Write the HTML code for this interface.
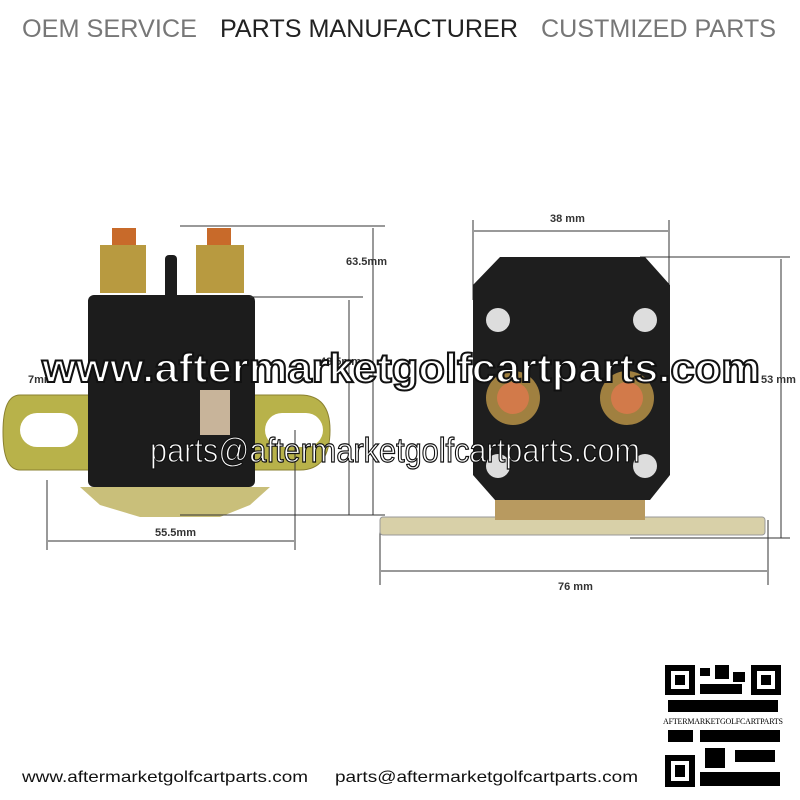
<!DOCTYPE html><html><head><style>body{margin:0;background:#fff}svg{display:block}</style></head><body>
<svg width="800" height="800" viewBox="0 0 800 800" font-family="Liberation Sans, sans-serif">
<text x="22" y="37" font-size="25" fill="#777" textLength="175" lengthAdjust="spacingAndGlyphs">OEM SERVICE</text>
<text x="220" y="37" font-size="25" fill="#222" textLength="298" lengthAdjust="spacingAndGlyphs">PARTS MANUFACTURER</text>
<text x="541" y="37" font-size="25" fill="#777" textLength="235" lengthAdjust="spacingAndGlyphs">CUSTMIZED PARTS</text>
<!-- left solenoid -->
<path d="M20 395 L300 395 Q330 395 330 430 Q330 470 300 470 L20 470 Q3 470 3 432 Q3 395 20 395Z" fill="#b8b24a" stroke="#8a8030"/>
<rect x="20" y="413" width="58" height="34" rx="17" fill="#fff"/>
<rect x="265" y="413" width="58" height="34" rx="17" fill="#fff"/>
<path d="M80 487 L270 487 L250 505 L220 517 L140 517 L100 505Z" fill="#c9bf7a"/>
<rect x="88" y="295" width="167" height="192" rx="6" fill="#1c1c1c"/>
<rect x="200" y="390" width="30" height="45" fill="#c8b49a"/>
<rect x="165" y="255" width="12" height="45" rx="4" fill="#1c1c1c"/>
<rect x="112" y="228" width="24" height="22" fill="#c86a2a"/>
<rect x="100" y="245" width="46" height="48" fill="#b89a40"/>
<rect x="207" y="228" width="24" height="22" fill="#c86a2a"/>
<rect x="196" y="245" width="48" height="48" fill="#b89a40"/>
<g stroke="#333" stroke-width="1" fill="none">
<line x1="180" y1="226" x2="385" y2="226"/><line x1="373" y1="228" x2="373" y2="515"/>
<line x1="250" y1="297" x2="363" y2="297"/><line x1="349" y1="300" x2="349" y2="515"/>
<line x1="180" y1="515" x2="385" y2="515"/>
<line x1="47" y1="480" x2="47" y2="550"/><line x1="295" y1="430" x2="295" y2="550"/>
<line x1="48" y1="541" x2="294" y2="541"/>
<line x1="380" y1="520" x2="380" y2="585"/><line x1="768" y1="520" x2="768" y2="585"/>
<line x1="381" y1="571" x2="767" y2="571"/>
<line x1="473" y1="220" x2="473" y2="300"/><line x1="669" y1="220" x2="669" y2="300"/>
<line x1="474" y1="231" x2="668" y2="231"/>
<line x1="640" y1="257" x2="790" y2="257"/><line x1="781" y1="259" x2="781" y2="538"/>
<line x1="630" y1="538" x2="790" y2="538"/>
</g>
<g font-size="11" font-weight="bold" fill="#333">
<text x="346" y="265">63.5mm</text><text x="155" y="536">55.5mm</text>
<text x="550" y="222">38 mm</text><text x="761" y="383">53 mm</text>
<text x="558" y="590">76 mm</text><text x="28" y="383">7mm</text><text x="320" y="365">48.5mm</text>
</g>
<!-- right solenoid -->
<rect x="380" y="517" width="385" height="18" rx="3" fill="#d8d0a8" stroke="#999"/>
<rect x="495" y="490" width="150" height="30" fill="#b89a60"/>
<path d="M500 257 L645 257 L670 285 L670 475 L650 500 L495 500 L473 475 L473 285Z" fill="#1e1e1e"/>
<circle cx="498" cy="320" r="12" fill="#ddd"/><circle cx="645" cy="320" r="12" fill="#ddd"/>
<circle cx="498" cy="466" r="12" fill="#ddd"/><circle cx="645" cy="466" r="12" fill="#ddd"/>
<circle cx="513" cy="398" r="27" fill="#a08040"/><circle cx="513" cy="398" r="16" fill="#d27a4a"/>
<circle cx="627" cy="398" r="27" fill="#a08040"/><circle cx="627" cy="398" r="16" fill="#d27a4a"/>
<!-- watermarks -->
<text x="42" y="382" font-size="41" font-weight="bold" fill="#fff" stroke="#111" stroke-width="2" textLength="718" lengthAdjust="spacingAndGlyphs">www.aftermarketgolfcartparts.com</text>
<text x="150" y="462" font-size="34" fill="#fff" stroke="#111" stroke-width="1.2" textLength="490" lengthAdjust="spacingAndGlyphs">parts@aftermarketgolfcartparts.com</text>
<!-- QR -->
<rect x="663" y="663" width="120" height="125" fill="#fff"/>
<g fill="#000">
<rect x="665" y="665" width="30" height="30"/><rect x="751" y="665" width="30" height="30"/><rect x="665" y="755" width="30" height="32"/>
<rect x="700" y="668" width="10" height="8"/><rect x="715" y="665" width="14" height="14"/><rect x="733" y="672" width="12" height="10"/>
<rect x="700" y="684" width="42" height="10"/><rect x="668" y="700" width="110" height="12"/>
<rect x="700" y="730" width="80" height="12"/><rect x="705" y="748" width="20" height="20"/><rect x="735" y="750" width="40" height="12"/>
<rect x="700" y="772" width="80" height="14"/><rect x="668" y="730" width="25" height="12"/>
</g>
<rect x="671" y="671" width="18" height="18" fill="#fff"/><rect x="757" y="671" width="18" height="18" fill="#fff"/><rect x="671" y="761" width="18" height="20" fill="#fff"/>
<rect x="675" y="675" width="10" height="10"/><rect x="761" y="675" width="10" height="10"/><rect x="675" y="765" width="10" height="12"/>
<rect x="663" y="714" width="120" height="12" fill="#fff"/>
<text x="663" y="724" font-size="8" font-family="Liberation Serif, serif" textLength="120">AFTERMARKETGOLFCARTPARTS</text>
<text x="22" y="782" font-size="16" fill="#111" textLength="286" lengthAdjust="spacingAndGlyphs">www.aftermarketgolfcartparts.com</text>
<text x="335" y="782" font-size="16" fill="#111" textLength="303" lengthAdjust="spacingAndGlyphs">parts@aftermarketgolfcartparts.com</text>
</svg></body></html>
